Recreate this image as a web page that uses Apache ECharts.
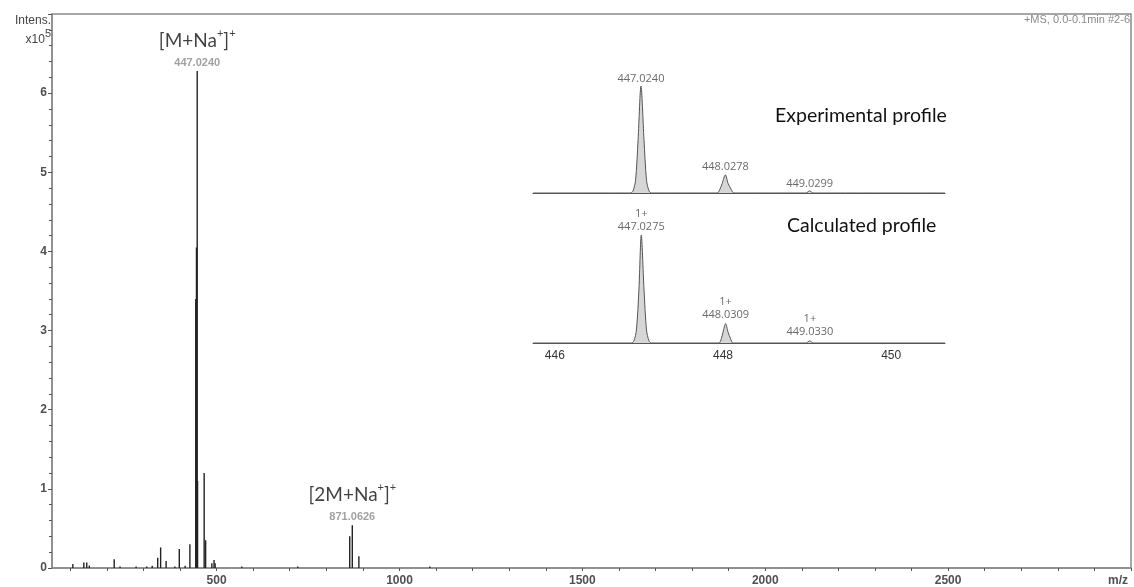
<!DOCTYPE html>
<html>
<head>
<meta charset="utf-8">
<script src="https://cdn.jsdelivr.net/npm/echarts@6/dist/echarts.min.js"></script>
<style>
html,body{margin:0;padding:0;background:#fff;}
#chart{width:1134px;height:587px;}
</style>
</head>
<body>
<div id="chart"></div>
<script>
// ---- Main spectrum: stick peaks [m/z, intensity x10^5] ----
const mainPeaks = [
  [107,0.05],[137,0.07],[145,0.07],[152,0.03],[220,0.11],[236,0.02],[280,0.02],
  [309,0.02],[324,0.03],[339,0.13],[347,0.26],[362,0.09],[386,0.02],[398,0.24],
  [414,0.03],[427,0.30],[443,3.40],[445,4.05],[447,6.28],[448,1.10],[466,1.20],
  [470,0.35],[487,0.06],[493,0.10],[496,0.06],[569,0.02],[722,0.02],
  [864,0.40],[871,0.54],[889,0.15],[1083,0.02]
];
const xLabelValues = [500,1000,1500,2000,2500];
const xTickValues = [100,200,300,400,500,600,700,800,900,1000,1100,1200,1300,1400,1500,1600,1700,1800,1900,2000,2100,2200,2300,2400,2500,2600,2700,2800,2900,3000];
const yLabelValues = [0,1,2,3,4,5,6];

// annotated ions in the main spectrum
const ionMz = [447, 871];
const ionInt = [6.28, 0.54];
const ionMzText = ['447.0240','871.0626'];
const ionName = ['M','2M'];

// ---- Inset: experimental profile [m/z, relative intensity] ----
const expProfile = [
  [445.74,0],[446.90,0],[446.93,0.02],[446.96,0.12],[446.99,0.50],[447.024,1.00],
  [447.06,0.50],[447.09,0.12],[447.12,0.02],[447.15,0],
  [447.93,0],[447.96,0.03],[447.99,0.09],[448.028,0.17],[448.06,0.09],[448.10,0.03],[448.13,0],
  [448.98,0],[449.01,0.01],[449.03,0.02],[449.05,0.01],[449.08,0],[450.64,0]
];
const expLabelMz = [447.024, 448.0278, 449.0299];
const expLabelInt = [1.00, 0.17, 0.02];
const expLabelText = ['447.0240','448.0278','449.0299'];

// ---- Inset: calculated profile ----
const calcProfile = [
  [445.74,0],[446.91,0],[446.94,0.02],[446.97,0.12],[447.00,0.50],[447.0275,1.00],
  [447.06,0.50],[447.09,0.12],[447.12,0.02],[447.15,0],
  [447.95,0],[447.98,0.04],[448.00,0.10],[448.031,0.18],[448.06,0.10],[448.09,0.04],[448.12,0],
  [448.99,0],[449.01,0.01],[449.033,0.02],[449.05,0.01],[449.08,0],[450.64,0]
];
const calcLabelMz = [447.0275, 448.0309, 449.0330];
const calcLabelInt = [1.00, 0.18, 0.02];
const calcLabelText = ['447.0275','448.0309','449.0330'];
const calcCharge = '1+';
const insetLabelValues = [446, 448, 450];

const chart = echarts.init(document.getElementById('chart'), null, {renderer:'canvas'});
const axisGray = '#8a8a8a';
const labelFont = '"Liberation Sans", Arial, sans-serif';
const insetFont = '"Open Sans", "DejaVu Sans", sans-serif';
const bigFont = 'Lato, "Open Sans", sans-serif';

const option = {
  animation: false,
  backgroundColor: '#fff',
  grid: [
    {left: 52, right: 3, top: 14, bottom: 19, show: true, borderColor: axisGray, borderWidth: 1.5, backgroundColor: 'transparent'},
    {left: 533, right: 189, top: 86, height: 107},
    {left: 533, right: 189, top: 235, height: 108}
  ],
  xAxis: [
    {
      type: 'value', gridIndex: 0, min: 50, max: 3000,
      axisLine: {lineStyle: {color: axisGray, width: 1.5}},
      axisTick: {show: true, length: 3, customValues: xTickValues, lineStyle: {color: '#555'}},
      axisLabel: {customValues: xLabelValues, formatter: v => String(v), color: '#505050', fontWeight: 'bold', fontSize: 12, fontFamily: labelFont, margin: 7},
      splitLine: {show: false}
    },
    {
      type: 'value', gridIndex: 1, min: 445.74, max: 450.64,
      axisLine: {onZero: false, lineStyle: {color: '#555', width: 1}},
      axisTick: {show: false}, axisLabel: {show: false}, splitLine: {show: false}
    },
    {
      type: 'value', gridIndex: 2, min: 445.74, max: 450.64,
      axisLine: {onZero: false, lineStyle: {color: '#555', width: 1}},
      axisTick: {show: false},
      axisLabel: {customValues: insetLabelValues, formatter: v => String(v), color: '#333', fontSize: 12, fontFamily: labelFont, margin: 7},
      splitLine: {show: false}
    }
  ],
  yAxis: [
    {
      type: 'value', gridIndex: 0, min: 0, max: 7, interval: 1,
      axisLine: {show: true, lineStyle: {color: axisGray, width: 1.5}},
      axisTick: {show: true, length: 4, lineStyle: {color: '#555'}},
      minorTick: {show: true, splitNumber: 5, length: 3, lineStyle: {color: '#555'}},
      axisLabel: {customValues: yLabelValues, color: '#505050', fontWeight: 'bold', fontSize: 12, fontFamily: labelFont, margin: 5},
      splitLine: {show: false}
    },
    {type: 'value', gridIndex: 1, min: 0, max: 1, show: false},
    {type: 'value', gridIndex: 2, min: 0, max: 1, show: false}
  ],
  series: [
    {
      type: 'custom', xAxisIndex: 0, yAxisIndex: 0,
      data: mainPeaks,
      encode: {x: 0, y: 1},
      renderItem: function (params, api) {
        const x = api.value(0), y = api.value(1);
        const p0 = api.coord([x, 0]);
        const p1 = api.coord([x, y]);
        return {
          type: 'line',
          shape: {x1: p0[0], y1: p0[1], x2: p1[0], y2: p1[1]},
          style: {stroke: '#222', lineWidth: 1.4}
        };
      },
      z: 3
    },
    {
      type: 'scatter', xAxisIndex: 0, yAxisIndex: 0,
      symbolSize: 0,
      data: ionMz.map((m, i) => [m, ionInt[i], i]),
      label: {
        show: true, position: 'top', distance: 1,
        formatter: function (p) {
          const i = p.data[2];
          return '{a|[' + ionName[i] + '+Na}{s|+}{a|]}{s|+}\n{g|' + ionMzText[i] + '}';
        },
        rich: {
          a: {fontFamily: bigFont, fontSize: 19, color: '#111', lineHeight: 31},
          s: {fontFamily: bigFont, fontSize: 11, color: '#111', lineHeight: 31, verticalAlign: 'top', padding: [3,0,0,0]},
          g: {fontFamily: labelFont, fontSize: 11, fontWeight: 'bold', color: '#8a8a8a', lineHeight: 14}
        }
      },
      z: 5
    },
    {
      type: 'line', xAxisIndex: 1, yAxisIndex: 1,
      data: expProfile, showSymbol: false, smooth: 0.3, clip: false,
      lineStyle: {color: '#555', width: 1},
      areaStyle: {color: '#d6d6d6', opacity: 1}
    },
    {
      type: 'scatter', xAxisIndex: 1, yAxisIndex: 1, symbolSize: 0, clip: false,
      data: expLabelMz.map((m, i) => [m, expLabelInt[i], i]),
      label: {
        show: true, position: 'top', distance: 2,
        formatter: p => expLabelText[p.data[2]],
        fontFamily: insetFont, fontSize: 11, color: '#444'
      }
    },
    {
      type: 'line', xAxisIndex: 2, yAxisIndex: 2,
      data: calcProfile, showSymbol: false, smooth: 0.3, clip: false,
      lineStyle: {color: '#555', width: 1},
      areaStyle: {color: '#d6d6d6', opacity: 1}
    },
    {
      type: 'scatter', xAxisIndex: 2, yAxisIndex: 2, symbolSize: 0, clip: false,
      data: calcLabelMz.map((m, i) => [m, calcLabelInt[i], i]),
      label: {
        show: true, position: 'top', distance: 2, align: 'center',
        formatter: p => calcCharge + '\n' + calcLabelText[p.data[2]],
        fontFamily: insetFont, fontSize: 11, color: '#444', lineHeight: 13
      }
    }
  ],
  graphic: [
    {type: 'text', right: 1134 - 51, top: 15, style: {text: 'Intens.', font: '12px ' + labelFont, fill: '#444'}},
    {type: 'text', right: 1134 - 51, top: 28, style: {
      text: '{a|x10}{s|5}', rich: {
        a: {fontFamily: labelFont, fontSize: 12, fill: '#444', lineHeight: 18, verticalAlign: 'bottom'},
        s: {fontFamily: labelFont, fontSize: 11, fill: '#444', lineHeight: 11, verticalAlign: 'top'}
      }}},
    {type: 'text', right: 4, top: 14, style: {text: '+MS, 0.0-0.1min #2-6', font: '11px ' + labelFont, fill: '#8a8a8a'}},
    {type: 'text', left: 1108, top: 575, style: {text: 'm/z', font: 'bold 12px ' + labelFont, fill: '#505050'}},
    {type: 'text', left: 775, top: 106, style: {text: 'Experimental profile', font: '19.5px ' + bigFont, fill: '#111'}},
    {type: 'text', left: 787, top: 216, style: {text: 'Calculated profile', font: '19.5px ' + bigFont, fill: '#111'}}
  ]
};
chart.setOption(option);
</script>
</body>
</html>
